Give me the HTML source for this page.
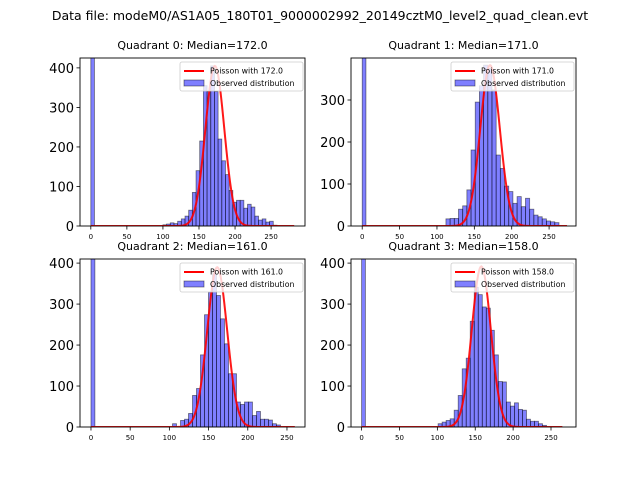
<!DOCTYPE html>
<html><head><meta charset="utf-8"><style>
body{margin:0;background:#fff}
svg{display:block;font-family:"DejaVu Sans","Liberation Sans",sans-serif}
</style></head><body>
<svg id="fig" width="640" height="480" viewBox="0 0 640 480">
<text x="320" y="20" font-size="12.5" text-anchor="middle">Data file: modeM0/AS1A05_180T01_9000002992_20149cztM0_level2_quad_clean.evt</text>
</svg>
<script>
// ---- data ----
const quadrantTitles = ["Quadrant 0: Median=172.0","Quadrant 1: Median=171.0","Quadrant 2: Median=161.0","Quadrant 3: Median=158.0"];
const medians = [172.0, 171.0, 161.0, 158.0];
const poissonPeaks = [405, 383, 390, 392];
const curveEnds = [282, 274, 260, 265];
const zeroBinCounts = [5000, 5000, 5000, 5000];
const binStarts = [100, 112, 104, 101];
const binWidths = [5.1, 5.6, 5.1, 5.3];
const counts0 = [3,5,8,6,12,18,25,40,85,140,215,355,340,405,340,220,165,130,90,60,65,65,45,55,48,25,15,18,10,12,2];
const counts1 = [17,18,18,40,48,86,181,295,334,383,375,324,169,137,95,82,54,70,46,66,40,26,22,17,12,10,8];
const counts2 = [8,0,16,19,33,77,94,176,274,329,374,321,264,203,130,130,61,55,61,61,28,38,19,19,17,8,5];
const counts3 = [8,12,16,20,41,77,142,168,258,341,323,293,290,236,176,111,110,61,51,59,43,41,19,14,14,8,4];
const allCounts = [counts0, counts1, counts2, counts3];
const yTicks = [[0,100,200,300,400],[0,100,200,300],[0,100,200,300,400],[0,100,200,300,400]];
const xTicks = [0,50,100,150,200,250];
const xDomains = [[-15,297],[-15,286],[-14,273],[-14,283]];
const yMaxes = [425, 400, 410, 410];
// ---- layout ----
const boxes = [[80,58,225,168],[351,58,225,168],[80,259,225,168],[351,259,225,168]];
const NS = "http://www.w3.org/2000/svg";
const fig = document.getElementById('fig');
function mk(tag, attrs, parent){const e=document.createElementNS(NS,tag);for(const k in attrs)e.setAttribute(k,attrs[k]);(parent||fig).appendChild(e);return e;}

for(let q=0;q<4;q++){
  const [L,T,W,H]=boxes[q];
  const g=mk('g',{});
  
  
  const xs=v=>L+(v-xDomains[q][0])/(xDomains[q][1]-xDomains[q][0])*W;
  const ys=v=>T+H-v/yMaxes[q]*H;
  const clipId='clip'+q;
  const cp=mk('clipPath',{id:clipId},g);mk('rect',{x:L,y:T,width:W,height:H},cp);
  const pg=mk('g',{'clip-path':'url(#'+clipId+')'},g);
  const z=mk('rect',{x:xs(0),y:ys(zeroBinCounts[q]),width:xs(5)-xs(0),height:ys(0)-ys(zeroBinCounts[q]),fill:'rgba(0,0,255,0.5)',stroke:'rgba(0,0,0,0.5)','stroke-width':0.8},pg);
  
  
  allCounts[q].forEach((c,i)=>{
    const x0=binStarts[q]+i*binWidths[q];
    if(c<=0)return;
    const r=mk('rect',{x:xs(x0),y:ys(c),width:xs(x0+binWidths[q])-xs(x0),height:ys(0)-ys(c),fill:'rgba(0,0,255,0.5)',stroke:'rgba(0,0,0,0.5)','stroke-width':0.8},pg);
    
    
  });
  const mu=medians[q], sd=Math.sqrt(mu);
  let d='';
  for(let v=0;v<=curveEnds[q];v+=1){
    const y=poissonPeaks[q]*Math.exp(-0.5*((v-mu)/sd)**2);
    d+=(v?'L':'M')+xs(v).toFixed(2)+' '+ys(y).toFixed(2);
  }
  const p=mk('path',{d:d,fill:'none',stroke:'rgba(255,0,0,0.9)','stroke-width':2},pg);
  
  
  const fr=mk('rect',{x:L,y:T,width:W,height:H,fill:'none',stroke:'#000','stroke-width':0.9},g);
  
  
  const tt=mk('text',{x:L+W/2,y:T-9,'font-size':11,'text-anchor':'middle'},g);
  tt.textContent=quadrantTitles[q];
  
  
  xTicks.forEach(t=>{
    mk('line',{x1:xs(t),x2:xs(t),y1:T+H,y2:T+H+3.5,stroke:'#000','stroke-width':0.8},g);
    const tx=mk('text',{x:xs(t),y:T+H+13,'font-size':7,'text-anchor':'middle'},g);
    tx.textContent=t;
    
    
  });
  yTicks[q].forEach(t=>{
    mk('line',{x1:L-3.5,x2:L,y1:ys(t),y2:ys(t),stroke:'#000','stroke-width':0.8},g);
    const ty=mk('text',{x:L-6,y:ys(t)+5,'font-size':13,'text-anchor':'end'},g);
    ty.textContent=t;
    
    
  });
  const lg=mk('g',{},g);
  
  
  const lx=L+W-125, ly=T+4;
  mk('rect',{x:lx,y:ly,width:123,height:29,rx:2,fill:'rgba(255,255,255,0.8)',stroke:'#ccc','stroke-width':0.8},lg);
  mk('line',{x1:lx+4,x2:lx+24,y1:ly+9,y2:ly+9,stroke:'red','stroke-width':2},lg);
  const l1=mk('text',{x:lx+30,y:ly+11.5,'font-size':7.8},lg);l1.textContent='Poisson with '+medians[q].toFixed(1);
  
  
  mk('rect',{x:lx+4,y:ly+18,width:20,height:6,fill:'rgba(0,0,255,0.5)',stroke:'rgba(0,0,0,0.5)','stroke-width':0.8},lg);
  const l2=mk('text',{x:lx+30,y:ly+24,'font-size':7.8},lg);l2.textContent='Observed distribution';
  
  
}
</script>
</body></html>
